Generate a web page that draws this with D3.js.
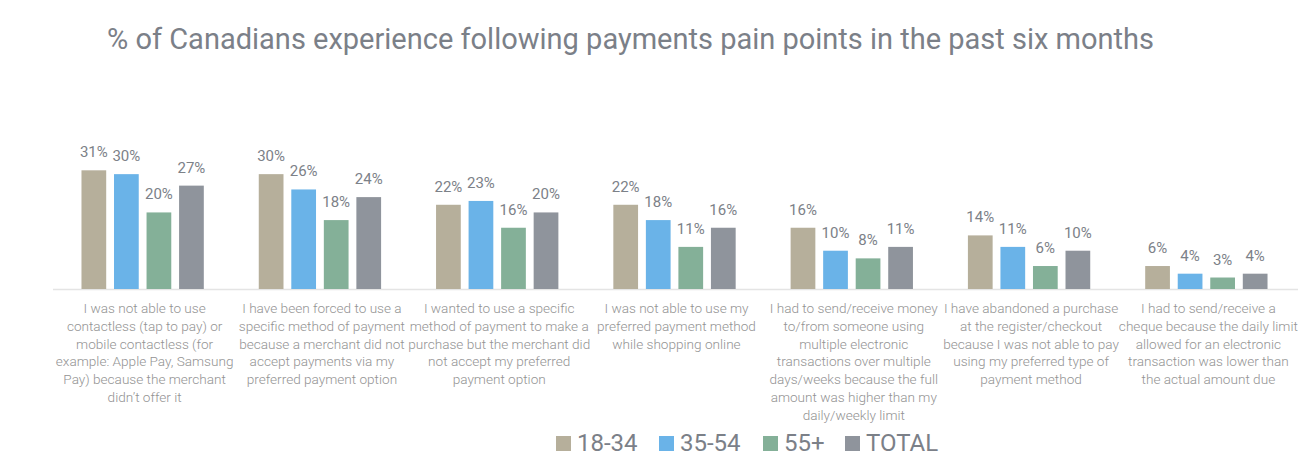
<!DOCTYPE html>
<html>
<head>
<meta charset="utf-8">
<script src="https://cdn.jsdelivr.net/npm/d3@7"></script>
<style>
  html, body { margin: 0; padding: 0; background: #ffffff; }
  svg { display: block; font-family: Roboto, "Open Sans", sans-serif; }
</style>
</head>
<body>
<svg id="chart" width="1302" height="464"></svg>
<script>
const title = "% of Canadians experience following payments pain points in the past six months";
const categories = [
  ["I was not able to use", "contactless (tap to pay) or", "mobile contactless (for", "example: Apple Pay, Samsung", "Pay) because the merchant", "didn’t offer it"],
  ["I have been forced to use a", "specific method of payment", "because a merchant did not", "accept payments via my", "preferred payment option"],
  ["I wanted to use a specific", "method of payment to make a", "purchase but the merchant did", "not accept my preferred", "payment option"],
  ["I was not able to use my", "preferred payment method", "while shopping online"],
  ["I had to send/receive money", "to/from someone using", "multiple electronic", "transactions over multiple", "days/weeks because the full", "amount was higher than my", "daily/weekly limit"],
  ["I have abandoned a purchase", "at the register/checkout", "because I was not able to pay", "using my preferred type of", "payment method"],
  ["I had to send/receive a", "cheque because the daily limit", "allowed for an electronic", "transaction was lower than", "the actual amount due"]
];
const seriesNames = ["18-34", "35-54", "55+", "TOTAL"];
const seriesColors = ["#b6af9b", "#6ab3e8", "#84b098", "#8f949c"];
const v1834 = [31, 30, 22, 22, 16, 14, 6];
const v3554 = [30, 26, 23, 18, 10, 11, 4];
const v55 = [20, 18, 16, 11, 8, 6, 3];
const vTotal = [27, 24, 20, 16, 11, 10, 4];
const seriesValues = [v1834, v3554, v55, vTotal];

const svg = d3.select("#chart");
const idx = d3.range(categories.length);

const x0 = d3.scaleBand().domain(idx).range([54, 1295]).padding(0);
const bw = x0.bandwidth();
const x1 = d3.scaleBand().domain(d3.range(seriesNames.length))
  .range([bw * 0.155, bw * 0.845]).paddingInner(0.24).paddingOuter(0);
const y = d3.scaleLinear().domain([0, 35]).range([289, 155]);

// title
svg.append("text")
  .attr("x", 107).attr("y", 49)
  .attr("font-size", 29).attr("fill", "#7b8088")
  .text(title);

// baseline
svg.append("line")
  .attr("x1", 53).attr("x2", 1298)
  .attr("y1", y(0) + 0.5).attr("y2", y(0) + 0.5)
  .attr("stroke", "#e4e4e4").attr("stroke-width", 1.5);

const groups = svg.append("g").selectAll("g").data(idx).join("g")
  .attr("transform", d => `translate(${x0(d)},0)`);

groups.selectAll("rect")
  .data(c => seriesValues.map((s, i) => ({ s: i, v: s[c] })))
  .join("rect")
  .attr("x", d => x1(d.s))
  .attr("width", x1.bandwidth())
  .attr("y", d => y(d.v))
  .attr("height", d => y(0) - y(d.v))
  .attr("fill", d => seriesColors[d.s]);

groups.selectAll("text.val")
  .data(c => seriesValues.map((s, i) => ({ s: i, v: s[c] })))
  .join("text")
  .attr("class", "val")
  .attr("x", d => x1(d.s) + x1.bandwidth() / 2)
  .attr("y", d => y(d.v) - 13)
  .attr("text-anchor", "middle")
  .attr("font-size", 15)
  .attr("fill", "#7c8188")
  .text(d => d.v + "%");

// category labels
groups.append("text")
  .attr("text-anchor", "middle")
  .attr("font-size", 13.6)
  .attr("font-weight", 300)
  .attr("fill", "#939393")
  .selectAll("tspan")
  .data(c => categories[c])
  .join("tspan")
  .attr("x", bw / 2 + 2)
  .attr("y", (d, i) => 313 + i * 17.8)
  .text(d => d);

// legend
const legendX = [556, 659, 763, 845];
const legend = svg.append("g").selectAll("g").data(seriesNames).join("g")
  .attr("transform", (d, i) => `translate(${legendX[i]},436)`);
legend.append("rect")
  .attr("width", 15).attr("height", 15)
  .attr("fill", (d, i) => seriesColors[i]);
legend.append("text")
  .attr("x", 21).attr("y", 15)
  .attr("font-size", 24)
  .attr("fill", "#7b8088")
  .text(d => d);
</script>
</body>
</html>
